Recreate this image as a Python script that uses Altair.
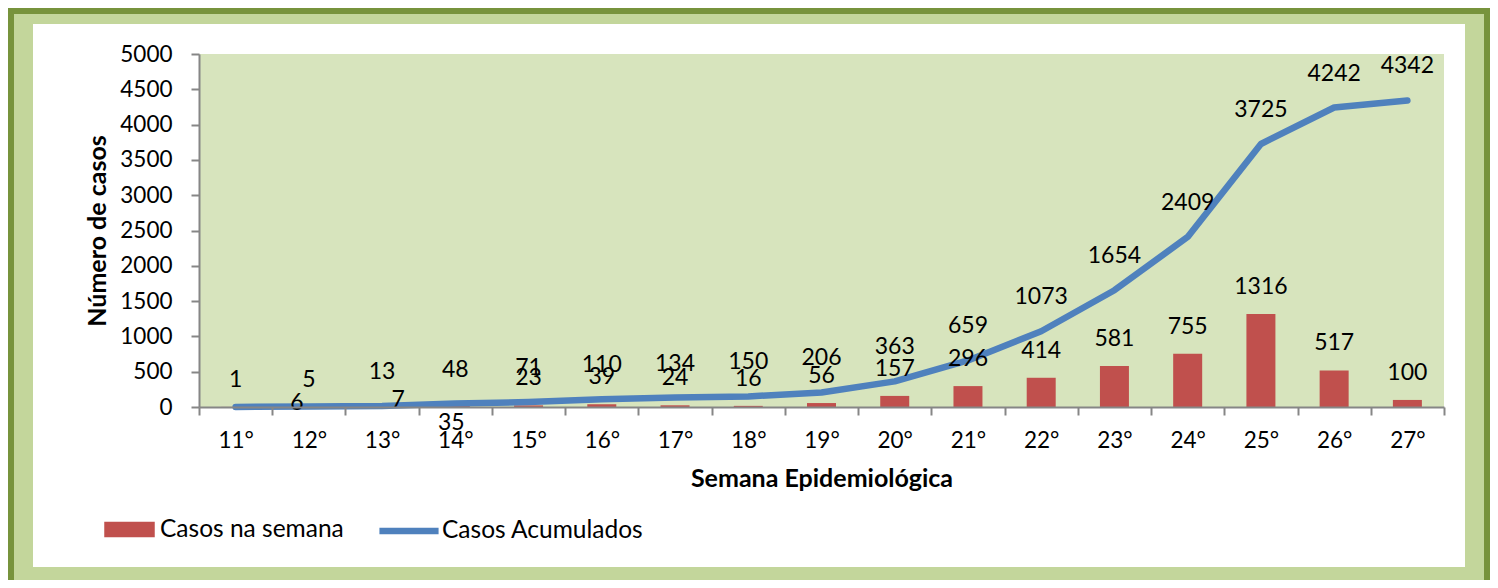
import altair as alt
import pandas as pd

# ---- data ----
semanas = ["11°", "12°", "13°", "14°", "15°", "16°", "17°", "18°", "19°",
           "20°", "21°", "22°", "23°", "24°", "25°", "26°", "27°"]
casos_semana = [1, 5, 7, 35, 23, 39, 24, 16, 56, 157, 296, 414, 581, 755, 1316, 517, 100]
casos_acumulados = [1, 6, 13, 48, 71, 110, 134, 150, 206, 363, 659, 1073, 1654, 2409, 3725, 4242, 4342]
y_ticks = [0, 500, 1000, 1500, 2000, 2500, 3000, 3500, 4000, 4500, 5000]

SERIE_BAR = "Casos na semana"
SERIE_LINE = "Casos Acumulados"

df = pd.DataFrame({
    "semana": semanas,
    "semanal": casos_semana,
    "acumulado": casos_acumulados,
    "serie_bar": SERIE_BAR,
    "serie_line": SERIE_LINE,
})

# ---- styling ----
FONT = "Lato"
FS = 22.5
DFS = 23
LFS = 24.5
TFS = 25
W, H = 1245, 353
DARK_GREEN = "#77933C"
LIGHT_GREEN = "#C3D69B"
PLOT_GREEN = "#D7E4BD"
RED = "#C0504D"
BLUE = "#4F81BD"
AXIS_GRAY = "#868686"

one = alt.Data(values=[{"k": 1}])

frame_light = alt.Chart(one).mark_rect(color=LIGHT_GREEN).encode(
    x=alt.value(-185), x2=alt.value(1285), y=alt.value(-40), y2=alt.value(540))
frame_white = alt.Chart(one).mark_rect(color="white").encode(
    x=alt.value(-166), x2=alt.value(1266), y=alt.value(-30), y2=alt.value(513))
plot_fill = alt.Chart(one).mark_rect(color=PLOT_GREEN).encode(
    x=alt.value(0), x2=alt.value(W), y=alt.value(0), y2=alt.value(H))

x_axis = alt.Axis(
    title="Semana Epidemiológica", tickBand="extent", tickSize=8, tickWidth=2,
    tickColor=AXIS_GRAY, domainColor=AXIS_GRAY, domainWidth=2,
    labelAngle=0, labelFont=FONT, labelFontSize=FS, labelColor="black",
    labelBaseline="middle", labelPadding=25, labelOverlap=False,
    titleFont=FONT, titleFontSize=TFS, titleFontWeight="bold", titleColor="black",
    titleY=71, titleBaseline="middle", zindex=2, grid=False,
)
x_scale = alt.Scale(domain=semanas, paddingInner=0, paddingOuter=0)

y_scale = alt.Scale(domain=[0, 5000], nice=False)
y_axis = alt.Axis(
    title="Número de casos", values=y_ticks, format="d", tickSize=8, tickWidth=2,
    tickColor=AXIS_GRAY, domainColor=AXIS_GRAY, domainWidth=2,
    labelFont=FONT, labelFontSize=FS, labelColor="black", labelPadding=19,
    labelOverlap=False, labelFlush=False,
    titleFont=FONT, titleFontSize=TFS, titleFontWeight="bold", titleColor="black",
    titleX=-102, titleY=H / 2, titleBaseline="middle", titleAngle=-90,
    zindex=2, grid=False,
)


def X():
    return alt.X("semana:N", sort=semanas, scale=x_scale, axis=x_axis)


def Y(field):
    return alt.Y(field, type="quantitative", scale=y_scale, axis=y_axis)


base = alt.Chart(df)

bars = base.mark_bar(size=29).encode(
    x=X(),
    y=Y("semanal"),
    fill=alt.Fill(
        "serie_bar:N",
        scale=alt.Scale(domain=[SERIE_BAR], range=[RED]),
        legend=alt.Legend(
            title=None, orient="none", legendX=-95, legendY=450,
            symbolType="M-1,-0.31H1V0.31H-1Z", symbolSize=2550,
            symbolStrokeWidth=0, labelFont=FONT, labelFontSize=LFS,
            labelColor="black", labelOffset=5, labelLimit=0, zindex=2, padding=0,
        ),
    ),
)

line = base.mark_line(strokeWidth=6.5, strokeCap="round", strokeJoin="round").encode(
    x=X(),
    y=Y("acumulado"),
    stroke=alt.Stroke(
        "serie_line:N",
        scale=alt.Scale(domain=[SERIE_LINE], range=[BLUE]),
        legend=alt.Legend(
            title=None, orient="none", legendX=177, legendY=444,
            symbolType="stroke", symbolSize=3500, symbolStrokeWidth=6.5,
            labelFont=FONT, labelFontSize=LFS, labelColor="black",
            labelOffset=0, labelLimit=0, zindex=2, padding=0,
        ),
    ),
)

text_kw = dict(font=FONT, fontSize=DFS, color="black", baseline="middle", align="center")

bar_labels = base.transform_filter(
    alt.FieldOneOfPredicate(field="semana", oneOf=[s for s in semanas if s not in ("13°", "14°")])
).mark_text(dy=-27, **text_kw).encode(x=X(), y=Y("semanal"), text="semanal:Q")
bar_label_13 = base.transform_filter(alt.datum.semana == "13°").mark_text(
    dx=16, dy=-7, **text_kw).encode(x=X(), y=Y("semanal"), text="semanal:Q")
bar_label_14 = base.transform_filter(alt.datum.semana == "14°").mark_text(
    dx=-4, dy=18, **text_kw).encode(x=X(), y=Y("semanal"), text="semanal:Q")

line_labels = base.transform_filter(
    alt.FieldOneOfPredicate(field="semana", oneOf=[s for s in semanas if s not in ("11°", "12°")])
).mark_text(dy=-34, **text_kw).encode(x=X(), y=Y("acumulado"), text="acumulado:Q")
line_label_12 = base.transform_filter(alt.datum.semana == "12°").mark_text(
    dx=-12, dy=-4, **text_kw).encode(x=X(), y=Y("acumulado"), text="acumulado:Q")

chart = alt.layer(
    frame_light, frame_white, plot_fill, bars, line,
    bar_labels, bar_label_13, bar_label_14, line_labels, line_label_12,
).resolve_legend(fill="independent", stroke="independent").properties(
    width=W, height=H,
    autosize=alt.AutoSizeParams(type="none"),
    padding={"left": 191, "top": 46, "right": 46, "bottom": 173},
    background=DARK_GREEN,
).configure_view(stroke=None, fill=None)

chart.save("out.html", embed_options={"renderer": "svg", "actions": False})
